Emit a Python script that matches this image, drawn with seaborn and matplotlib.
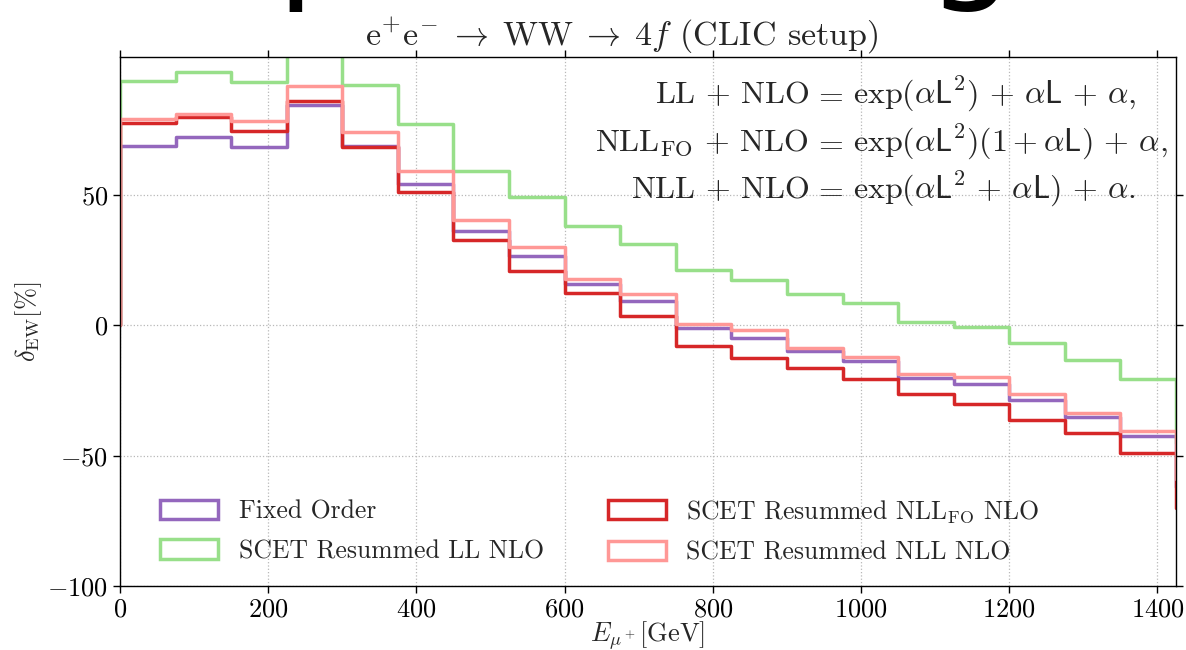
import numpy as np
import pandas as pd
import matplotlib
matplotlib.use("Agg")
import matplotlib.pyplot as plt
import seaborn as sns
from matplotlib.patches import Patch

# ---------------- data ----------------
bin_edges = [-75, 0, 75, 150, 225, 300, 375, 450, 525, 600, 675, 750, 825,
             900, 975, 1050, 1125, 1200, 1275, 1350, 1425, 1500]
bin_centers = [-37.5, 37.5, 112.5, 187.5, 262.5, 337.5, 412.5, 487.5, 562.5,
               637.5, 712.5, 787.5, 862.5, 937.5, 1012.5, 1087.5, 1162.5,
               1237.5, 1312.5, 1387.5, 1462.5]

fixed_order = [0.0, 69.0, 72.3, 68.6, 84.6, 68.8, 54.1, 36.3, 26.8, 16.0, 9.2,
               -1.0, -5.0, -9.8, -13.6, -20.3, -22.4, -28.8, -35.0, -42.4, -62.0]
scet_ll = [0.0, 93.8, 97.2, 93.3, 110.0, 92.3, 77.3, 59.2, 49.4, 38.2, 31.2,
           21.2, 17.3, 12.2, 8.6, 1.5, -0.5, -6.8, -13.2, -20.5, -45.0]
scet_nll_fo = [0.0, 77.8, 79.8, 74.7, 86.3, 68.3, 51.3, 32.7, 20.9, 12.5, 3.6,
               -8.0, -12.5, -16.4, -20.5, -26.5, -30.1, -36.3, -41.3, -49.0, -70.0]
scet_nll = [0.0, 79.3, 81.3, 78.5, 91.7, 74.4, 59.2, 40.6, 29.9, 17.7, 12.2,
            0.5, -1.8, -8.8, -12.2, -18.7, -19.9, -26.5, -33.6, -40.6, -59.0]

labels = ["Fixed Order", "SCET Resummed LL NLO",
          r"SCET Resummed NLL$_{\mathrm{FO}}$ NLO", "SCET Resummed NLL NLO"]
colors = ["#9467bd", "#98df8a", "#d62728", "#ff9896"]
series = [fixed_order, scet_ll, scet_nll_fo, scet_nll]

x_ticks = [0, 200, 400, 600, 800, 1000, 1200, 1400]
y_ticks = [-100, -50, 0, 50]

# ---------------- style ----------------
sns.set_theme(style="ticks")
plt.rcParams.update({
    "font.family": ["cmr10", "DejaVu Sans"],
    "mathtext.fontset": "cm",
    "axes.formatter.use_mathtext": True,
    "axes.unicode_minus": True,
    "axes.edgecolor": "black",
    "axes.linewidth": 1.0,
    "grid.color": "#b8b8b8",
    "grid.linestyle": ":",
    "grid.linewidth": 0.9,
    "xtick.color": "black",
    "ytick.color": "black",
})

fig = plt.figure(figsize=(11.86, 6.5), dpi=100)
ax = fig.add_axes([120 / 1186, 1 - 586 / 650, (1176 - 120) / 1186, (586 - 57) / 650])

for vals, col in zip(series, colors):
    df = pd.DataFrame({"E": bin_centers, "w": vals})
    sns.histplot(data=df, x="E", weights="w", bins=bin_edges, element="step",
                 fill=False, color=col, linewidth=2.5, ax=ax)

ax.set_xlim(0, 1425)
ax.set_ylim(-100, 103)
ax.set_xticks(x_ticks)
ax.set_yticks(y_ticks)
ax.grid(True)
ax.tick_params(axis="both", which="both", direction="out", length=5, width=1,
               labelsize=19, top=True, right=True)
ax.set_xlabel(r"$E_{\mu^+}$[GeV]", fontsize=19, labelpad=-2)
ax.set_ylabel(r"$\delta_{\mathrm{EW}}$[%]", fontsize=19, labelpad=2)

handles = [Patch(facecolor="none", edgecolor=c, linewidth=2.5) for c in colors]
ax.legend(handles, labels, loc="lower left", ncol=2, frameon=False,
          fontsize=18.5, handlelength=2.25, handleheight=0.8,
          columnspacing=2.5, labelspacing=0.62, borderaxespad=0.9,
          bbox_to_anchor=(7 / 1056, -12 / 529))

# title
fig.text(622 / 1186, 1 - 45 / 650,
         r"$\mathrm{e^{+}e^{-}} \;\rightarrow\; \mathrm{WW} \;\rightarrow\; 4f$ (CLIC setup)",
         ha="center", va="baseline", fontsize=24.5)

# formula block aligned at "="
eq_x = 828
lines = [
    (103, r"$\mathrm{LL} \,+\, \mathrm{NLO}$",
     r"$\exp(\alpha\mathsf{L}^2) \,+\, \alpha\mathsf{L} \,+\, \alpha,$"),
    (151, r"$\mathrm{NLL}_{\mathrm{FO}} \,+\, \mathrm{NLO}$",
     r"$\exp(\alpha\mathsf{L}^2)(1 + \alpha\mathsf{L}) \,+\, \alpha,$"),
    (198, r"$\mathrm{NLL} \,+\, \mathrm{NLO}$",
     r"$\exp(\alpha\mathsf{L}^2 \,+\, \alpha\mathsf{L}) \,+\, \alpha.$"),
]
for ypx, left, right in lines:
    yf = 1 - ypx / 650
    fig.text((eq_x - 19) / 1186, yf, left, ha="right", va="baseline", fontsize=23)
    fig.text(eq_x / 1186, yf, r"$=$", ha="center", va="baseline", fontsize=23)
    fig.text((eq_x + 25) / 1186, yf, right, ha="left", va="baseline", fontsize=23)

# clipped oversized heading fragments at the very top
fig.text(276 / 1186, 1 + 17 / 650, "p", ha="left", va="baseline", fontsize=100,
         family="DejaVu Sans", color="black")
fig.text(926 / 1186, 1 + 17 / 650, "g", ha="left", va="baseline", fontsize=100,
         family="DejaVu Sans", color="black")

fig.savefig("out.png", dpi=100)
